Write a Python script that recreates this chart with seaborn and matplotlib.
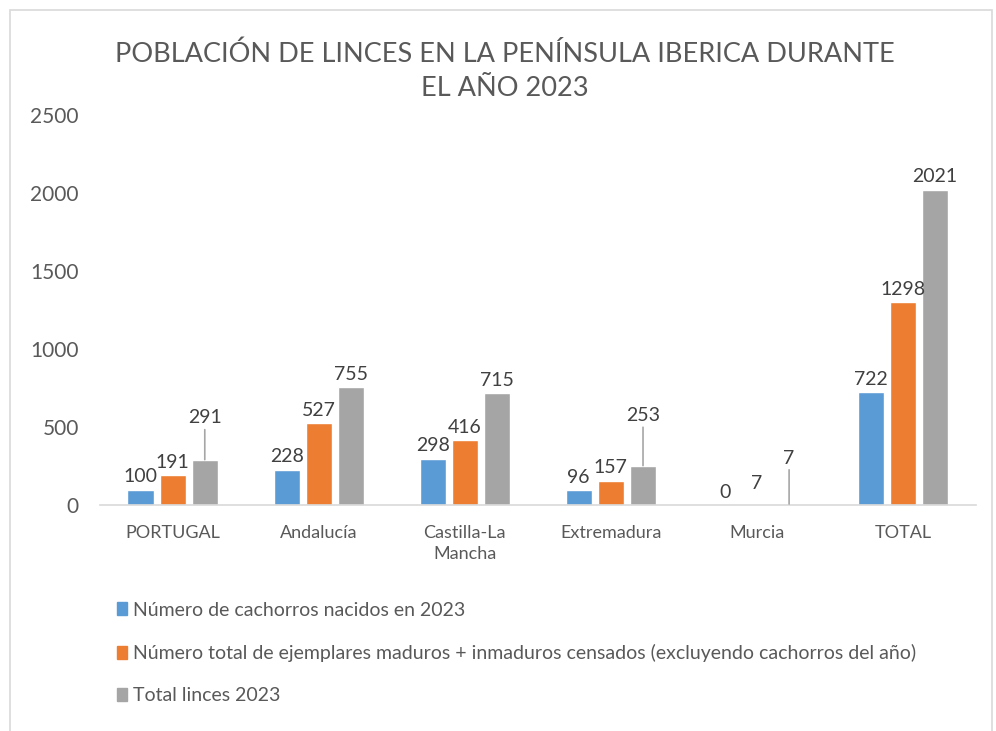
import pandas as pd
import matplotlib.pyplot as plt
import seaborn as sns
from matplotlib.patches import Rectangle, Patch

regions = ['PORTUGAL', 'Andalucía', 'Castilla-La\nMancha', 'Extremadura', 'Murcia', 'TOTAL']
cachorros = [100, 228, 298, 96, 0, 722]
maduros = [191, 527, 416, 157, 7, 1298]
total_linces = [291, 755, 715, 253, 7, 2021]
series = ['Número de cachorros nacidos en 2023',
          'Número total de ejemplares maduros + inmaduros censados (excluyendo cachorros del año)',
          'Total linces 2023']
colors = ['#5B9BD5', '#ED7D31', '#A5A5A5']

df = pd.DataFrame({
    'region': regions * 3,
    'valor': cachorros + maduros + total_linces,
    'serie': [series[0]] * 6 + [series[1]] * 6 + [series[2]] * 6,
})

sns.set_style('white')
plt.rcParams['font.family'] = ['Lato', 'DejaVu Sans']
txt = '#595959'

fig = plt.figure(figsize=(9.96, 7.31), dpi=100)
ax = fig.add_axes([0.100, 0.309, 0.880, 0.534])
sns.barplot(data=df, x='region', y='valor', hue='serie', palette=colors,
            saturation=1, width=0.66, gap=0.19, ax=ax, legend=False)

ax.set_ylim(0, 2500)
ax.set_yticks(range(0, 2501, 500))
ax.set_xlabel('')
ax.set_ylabel('')
for s in ['left', 'right', 'top']:
    ax.spines[s].set_visible(False)
ax.spines['bottom'].set_color('#d9d9d9')
ax.spines['bottom'].set_linewidth(1.2)
ax.tick_params(axis='y', length=0, labelsize=15, labelcolor=txt, pad=15)
ax.tick_params(axis='x', length=0, labelsize=13, labelcolor=txt, pad=14)
for lbl in ax.get_xticklabels():
    lbl.set_linespacing(1.45)

# etiquetas de datos; algunas llevan linea guia (serie, region) -> desplazamiento en pt
guias = {(2, 0): 24, (2, 3): 30, (2, 4): 27}
extra = {(1, 4): 9}
for i, cont in enumerate(ax.containers):
    for j, bar in enumerate(cont):
        x = bar.get_x() + bar.get_width() / 2
        h = bar.get_height()
        if (i, j) in guias:
            ax.annotate(f'{int(h)}', (x, h), xytext=(0, guias[(i, j)]),
                        textcoords='offset points', ha='center', va='bottom',
                        fontsize=14, color='#404040',
                        arrowprops=dict(arrowstyle='-', color='#a6a6a6', lw=1.2,
                                        shrinkA=0, shrinkB=0))
        else:
            ax.annotate(f'{int(h)}', (x, h), xytext=(0, extra.get((i, j), 3)),
                        textcoords='offset points', ha='center', va='bottom',
                        fontsize=14, color='#404040')

fig.text(0.507, 0.902, 'POBLACIÓN DE LINCES EN LA PENÍNSULA IBERICA DURANTE\nEL AÑO 2023',
         ha='center', va='center', fontsize=19.5, color=txt, linespacing=1.45)

handles = [Patch(color=c) for c in colors]
fig.legend(handles, series, loc='upper left', bbox_to_anchor=(0.100, 0.201),
           frameon=False, fontsize=14, labelcolor=txt, handlelength=0.5,
           handleheight=0.65, handletextpad=0.3, labelspacing=1.3)

fig.patches.append(Rectangle((0.010, -0.1), 0.996 - 0.010, 1.086, transform=fig.transFigure,
                             fill=False, edgecolor='#d9d9d9', lw=1.2))

fig.savefig('out.png', dpi=100)
